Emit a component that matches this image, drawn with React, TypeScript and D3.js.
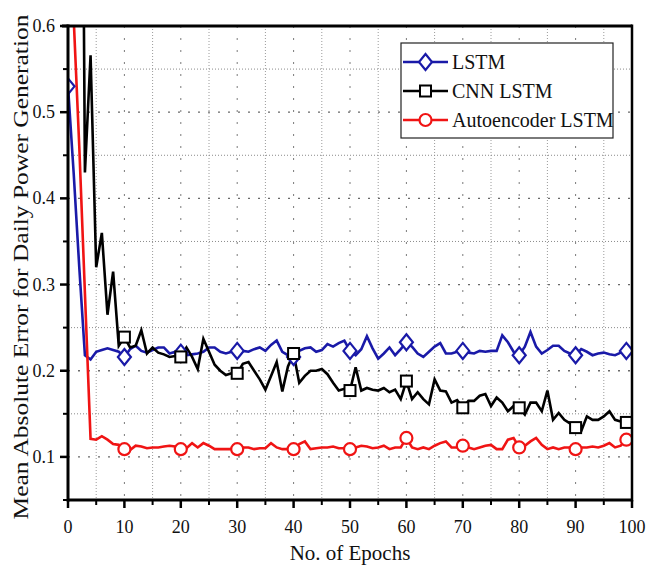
import React from "react";
import * as d3 from "d3";

const epochs: number[] = d3.range(0, 101);

const lstm: number[] = [
  0.53, 0.43, 0.32, 0.218, 0.213, 0.222, 0.224, 0.226, 0.224, 0.222,
  0.216, 0.225, 0.229, 0.223, 0.221, 0.224, 0.227, 0.227, 0.22, 0.222,
  0.221, 0.218, 0.219, 0.22, 0.222, 0.227, 0.227, 0.222, 0.22, 0.222,
  0.223, 0.223, 0.222, 0.225, 0.227, 0.223, 0.23, 0.235, 0.222, 0.218,
  0.216, 0.223, 0.226, 0.227, 0.222, 0.224, 0.231, 0.228, 0.232, 0.235,
  0.223, 0.218, 0.225, 0.24, 0.226, 0.214, 0.22, 0.227, 0.218, 0.225,
  0.233, 0.228, 0.22, 0.216, 0.222, 0.228, 0.232, 0.22, 0.22, 0.222,
  0.223, 0.221, 0.22, 0.223, 0.222, 0.223, 0.223, 0.241, 0.233, 0.222,
  0.218, 0.228, 0.245, 0.228, 0.22, 0.224, 0.229, 0.229, 0.223, 0.22,
  0.218, 0.225, 0.222, 0.218, 0.22, 0.221, 0.219, 0.218, 0.221, 0.223,
  0.219,
];

const cnnLstm: number[] = [
  1.6, 1.5, 1.4, 0.43, 0.566, 0.32, 0.36, 0.265, 0.315, 0.229,
  0.239, 0.227, 0.229, 0.247, 0.22, 0.227, 0.221, 0.219, 0.216, 0.217,
  0.216, 0.227, 0.216, 0.202, 0.237, 0.222, 0.207, 0.2, 0.195, 0.197,
  0.197, 0.208, 0.21, 0.2, 0.19, 0.178, 0.194, 0.21, 0.176, 0.205,
  0.22, 0.186, 0.194, 0.2, 0.2, 0.202, 0.196, 0.186, 0.177, 0.179,
  0.177, 0.204, 0.177, 0.18, 0.178, 0.177, 0.18, 0.175, 0.178, 0.167,
  0.188, 0.167, 0.175, 0.167, 0.161, 0.19, 0.177, 0.176, 0.163, 0.166,
  0.157, 0.165, 0.165, 0.171, 0.173, 0.159, 0.169, 0.163, 0.153, 0.159,
  0.157, 0.149, 0.163, 0.163, 0.153, 0.177, 0.143, 0.151, 0.143, 0.139,
  0.134, 0.13, 0.147, 0.143, 0.143, 0.147, 0.153, 0.143, 0.141, 0.14,
  0.138,
];

const aeLstm: number[] = [
  0.77, 0.61, 0.46, 0.29, 0.121, 0.12, 0.124, 0.12, 0.115, 0.114,
  0.109, 0.108, 0.113, 0.112, 0.11, 0.111, 0.111, 0.112, 0.113, 0.112,
  0.109, 0.11, 0.116, 0.111, 0.116, 0.113, 0.109, 0.109, 0.109, 0.109,
  0.109, 0.111, 0.111, 0.109, 0.11, 0.11, 0.116, 0.111, 0.109, 0.109,
  0.109, 0.115, 0.118, 0.109, 0.11, 0.111, 0.111, 0.112, 0.11, 0.11,
  0.109, 0.111, 0.113, 0.112, 0.11, 0.111, 0.113, 0.109, 0.111, 0.111,
  0.122, 0.111, 0.109, 0.111, 0.109, 0.113, 0.116, 0.118, 0.111, 0.111,
  0.113, 0.111, 0.109, 0.111, 0.113, 0.114, 0.109, 0.109, 0.12, 0.122,
  0.111, 0.113, 0.118, 0.122, 0.114, 0.109, 0.111, 0.109, 0.111, 0.111,
  0.109, 0.111, 0.111, 0.112, 0.111, 0.113, 0.116, 0.111, 0.113, 0.12,
  0.115,
];

const markerEpochs: number[] = [0, 10, 20, 30, 40, 50, 60, 70, 80, 90, 99];
const seriesNames: string[] = ["LSTM", "CNN LSTM", "Autoencoder LSTM"];
const seriesColors: string[] = ["#1a1aa8", "#000000", "#f01414"];
const seriesMarkers: string[] = ["diamond", "square", "circle"];
const xMajorTicks: number[] = [0, 10, 20, 30, 40, 50, 60, 70, 80, 90, 100];
const xMinorTicks: number[] = [5, 15, 25, 35, 45, 55, 65, 75, 85, 95];
const yMajorTicks: number[] = [0.1, 0.2, 0.3, 0.4, 0.5, 0.6];
const yMinorTicks: number[] = [0.05, 0.15, 0.25, 0.35, 0.45, 0.55];

const W = 647;
const H = 568;
const M = { left: 68, right: 15, top: 26, bottom: 68 };
const FONT = "'Liberation Serif', 'Times New Roman', serif";

function Marker({ type, x, y, color }: { type: string; x: number; y: number; color: string }) {
  if (type === "diamond") {
    const w = 6.5, h = 8;
    return (
      <path
        d={`M${x},${y - h}L${x + w},${y}L${x},${y + h}L${x - w},${y}Z`}
        fill="white"
        stroke={color}
        strokeWidth={2.2}
      />
    );
  }
  if (type === "square") {
    const s = 5.5;
    return <rect x={x - s} y={y - s} width={2 * s} height={2 * s} fill="white" stroke={color} strokeWidth={2} />;
  }
  return <circle cx={x} cy={y} r={6} fill="white" stroke={color} strokeWidth={2.2} />;
}

export default function App() {
  const x = d3.scaleLinear().domain([0, 100]).range([M.left, W - M.right]);
  const y = d3.scaleLinear().domain([0.05, 0.6]).range([H - M.bottom, M.top]);
  const all = [lstm, cnnLstm, aeLstm];
  const line = d3
    .line<number>()
    .x((_, i) => x(epochs[i]))
    .y((d) => y(d));
  const x0 = x(0), x1 = x(100), y0 = y(0.05), y1 = y(0.6);

  return (
    <svg width={W} height={H} style={{ position: "absolute", left: 0, top: 0, background: "white" }} fontFamily={FONT}>
      <defs>
        <clipPath id="plot">
          <rect x={x0} y={y1} width={x1 - x0} height={y0 - y1} />
        </clipPath>
      </defs>
      {/* grid */}
      <g>
        {xMinorTicks.map((t) => (
          <line key={"gxm" + t} x1={x(t)} x2={x(t)} y1={y1} y2={y0} stroke="#9a9a9a" strokeWidth={1} strokeDasharray="1,2" />
        ))}
        {xMajorTicks.filter((t) => t > 0 && t < 100).map((t) => (
          <line key={"gx" + t} x1={x(t)} x2={x(t)} y1={y1} y2={y0} stroke="#7a7a7a" strokeWidth={1} strokeDasharray="2,10" />
        ))}
        {yMinorTicks.filter((t) => t > 0.05).map((t) => (
          <line key={"gym" + t} x1={x0} x2={x1} y1={y(t)} y2={y(t)} stroke="#8a8a8a" strokeWidth={1} strokeDasharray="1,2" />
        ))}
        {yMajorTicks.filter((t) => t < 0.6).map((t) => (
          <line key={"gy" + t} x1={x0} x2={x1} y1={y(t)} y2={y(t)} stroke="#6a6a6a" strokeWidth={1.3} strokeDasharray="2,8" />
        ))}
      </g>
      {/* series */}
      <g clipPath="url(#plot)">
        {all.map((s, k) => (
          <path key={"l" + k} d={line(s) || ""} fill="none" stroke={seriesColors[k]} strokeWidth={2.6} strokeLinejoin="miter" />
        ))}
        {all.map((s, k) =>
          markerEpochs.map((e) => (
            <Marker key={"m" + k + "-" + e} type={seriesMarkers[k]} x={x(e)} y={y(s[e])} color={seriesColors[k]} />
          ))
        )}
      </g>
      {/* frame */}
      <line x1={x0 - 6} x2={x1} y1={y1} y2={y1} stroke="black" strokeWidth={3} />
      <line x1={x1} x2={x1} y1={y1 - 1.5} y2={y0 + 1.5} stroke="black" strokeWidth={2.5} />
      <line x1={x0} x2={x1 + 1} y1={y0} y2={y0} stroke="black" strokeWidth={3} />
      <line x1={x0} x2={x0} y1={y1 - 1.5} y2={y0 + 1.5} stroke="black" strokeWidth={3} />
      {/* x ticks */}
      {xMajorTicks.map((t) => (
        <g key={"xt" + t}>
          <line x1={x(t)} x2={x(t)} y1={y0} y2={y0 + 8} stroke="black" strokeWidth={2.5} />
          <text x={x(t)} y={y0 + 33} textAnchor="middle" fontSize={18} fill="#111">
            {t}
          </text>
        </g>
      ))}
      {xMinorTicks.map((t) => (
        <line key={"xmt" + t} x1={x(t)} x2={x(t)} y1={y0} y2={y0 + 5} stroke="black" strokeWidth={2} />
      ))}
      {/* y ticks */}
      {yMajorTicks.map((t) => (
        <g key={"yt" + t}>
          <line x1={x0 - 8} x2={x0} y1={y(t)} y2={y(t)} stroke="black" strokeWidth={2.5} />
          <text x={x0 - 13} y={y(t) + 6} textAnchor="end" fontSize={18} fill="#111">
            {t.toFixed(1)}
          </text>
        </g>
      ))}
      {yMinorTicks.map((t) => (
        <line key={"ymt" + t} x1={x0 - 5} x2={x0} y1={y(t)} y2={y(t)} stroke="black" strokeWidth={2} />
      ))}
      {/* axis titles */}
      <text x={(x0 + x1) / 2} y={H - 8} textAnchor="middle" fontSize={21} fill="#111">
        No. of Epochs
      </text>
      <text
        transform={`translate(28, ${(y0 + y1) / 2 + 4}) rotate(-90)`}
        textAnchor="middle"
        fontSize={20}
        fill="#111"
        textLength={505}
        lengthAdjust="spacingAndGlyphs"
      >
        Mean Absolute Error for Daily Power Generation
      </text>
      {/* legend */}
      <g>
        <rect x={401} y={43} width={212} height={95} fill="white" stroke="#222" strokeWidth={1.2} />
        {seriesNames.map((n, k) => {
          const ly = 62 + k * 29;
          return (
            <g key={"lg" + k}>
              <line x1={403} x2={448} y1={ly} y2={ly} stroke={seriesColors[k]} strokeWidth={2.6} />
              <Marker type={seriesMarkers[k]} x={425.5} y={ly} color={seriesColors[k]} />
              <text x={452} y={ly + 7} fontSize={20} fill="#111">
                {n}
              </text>
            </g>
          );
        })}
      </g>
    </svg>
  );
}
